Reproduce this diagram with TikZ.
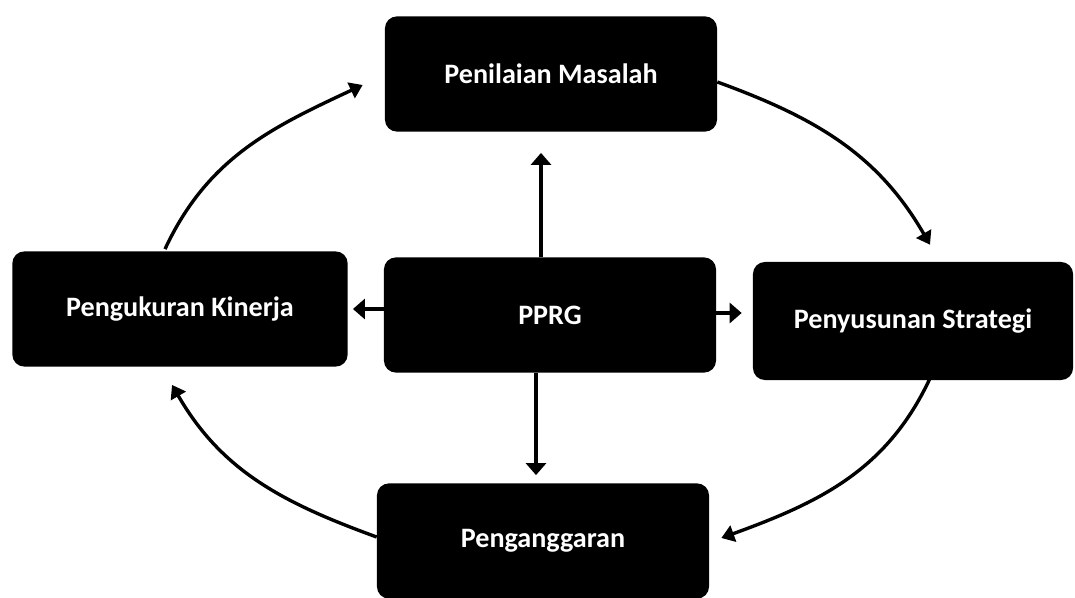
\documentclass[tikz,border=0pt]{standalone}
\usepackage{fontspec}
\setmainfont{Carlito}
\usetikzlibrary{calc,arrows.meta}

\tikzset{
  stage/.style={fill=black, rounded corners=0.3cm, text=white,
    font=\bfseries\fontsize{20}{24}\selectfont,
    minimum width=8.3cm, minimum height=2.88cm, inner sep=0pt},
  link/.style={line width=2.6pt, -{Triangle[length=0.3cm,width=0.5cm]}},
  ring/.style={line width=2.4pt, -{Triangle[length=0.32cm,width=0.42cm]}}
}

\begin{document}
\begin{tikzpicture}[x=0.025cm, y=-0.025cm]
    \useasboundingbox (0,0) rectangle (1075,597);
    \clip (0,0) rectangle (1075,597); % bottom box runs off the page
    % the five stages
    \node[stage] (penilaian) at (551,74) {Penilaian Masalah};
    \node[stage, minimum width=8.38cm] (pengukuran) at (180,309) {Pengukuran Kinerja};
    \node[stage] (pprg) at (550,315) {PPRG};
    \node[stage, minimum width=8cm, minimum height=2.95cm] (penyusunan) at (913,321) {Penyusunan Strategi};
    \node[stage] (penganggaran) at (543,541) {Penganggaran};
    % from the centre outwards
    \draw[link] ($(pprg.north)+(-9,0)$) -- ($(pprg.north |- penilaian.south)+(-9,21)$);
    \draw[link] ($(pprg.south)+(-14,0)$) -- ($(pprg.south |- penganggaran.north)+(-14,-8)$);
    \draw[link] (pprg.west |- pengukuran.east) -- ($(pengukuran.east)+(5,0)$);
    \draw[link] ($(pprg.east)+(0,-2)$) -- ($(pprg.east -| penyusunan.west)+(-11,-2)$);
    % the cycle round it
    \draw[ring] ($(pengukuran.north)+(-15,-2)$) to[out=65, in=205] ($(penilaian.west)+(-22,11)$);
    \draw[ring] ($(penilaian.east)+(0,8)$) to[out=-20, in=120] ($(penyusunan.north)+(17,-17)$);
    \draw[ring] ($(penyusunan.south)+(17,-2)$) to[out=-115, in=20] ($(penganggaran.east)+(12,-3)$);
    \draw[ring] ($(penganggaran.west)+(0,-4)$) to[out=160, in=-60] ($(pengukuran.south)+(-8,18)$);
\end{tikzpicture}
\end{document}
